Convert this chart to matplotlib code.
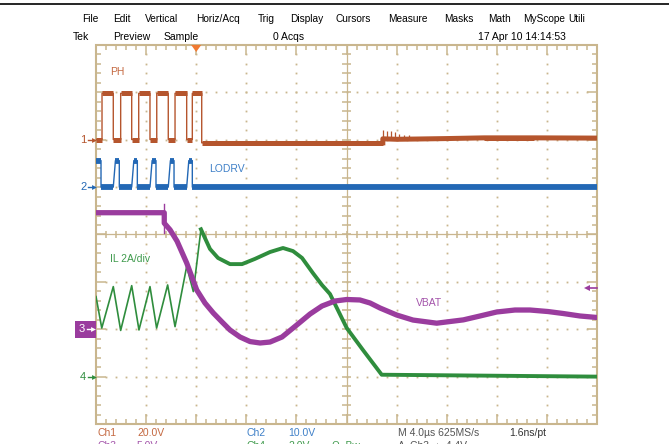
import numpy as np
import matplotlib.pyplot as plt
from matplotlib.collections import LineCollection
from matplotlib.patches import Rectangle, Polygon
from matplotlib.lines import Line2D

plt.rcParams['font.family'] = ['Liberation Sans', 'DejaVu Sans']

# --- scope settings -------------------------------------------------------
us_per_div = 4.0          # M 4.0us
t_left = -8.0             # trigger sits 2 divisions from the left edge

ch_scale = {'ph': 20.0, 'lodrv': 10.0, 'vbat': 5.0, 'il': 2.0}   # per div
ch_ref = {'ph': 2.0, 'lodrv': 1.0, 'vbat': -2.0, 'il': -3.0}     # div from centre
trig_level = 4.4          # V on Ch3

# --- Ch1 PH (V) -----------------------------------------------------------
ph_rise = [-7.52, -6.03, -4.59, -3.15, -1.69, -0.31]
ph_fall = [-6.62, -5.15, -3.69, -2.23, -0.76, 0.44]
ph_high = 19.6
ph_low = 0.1
ph_tail_t = [0.44, 14.9, 14.9, 16.0, 17.5, 20.0, 23.0, 27.0, 32.0]
ph_tail_v = [-1.3, -1.3, 0.4, 0.2, 0.3, 0.5, 0.8, 0.8, 0.7]
ph_ring_t = [14.95, 15.25, 15.55, 15.85, 16.2, 16.6, 17.0]
ph_ring_v = [4.3, 3.9, 3.6, 3.1, 2.6, 2.2, 1.9]

# --- Ch2 LODRV (V) --------------------------------------------------------
lodrv_t = [-8.0, -7.6, -7.6, -6.62, -6.45, -6.14, -6.14, -5.15, -4.98, -4.70,
           -4.70, -3.69, -3.52, -3.21, -3.21, -2.23, -2.06, -1.77, -1.77,
           -0.76, -0.59, -0.31, -0.31, 32.0]
lodrv_v = [5.6, 5.6, 0.0, 0.0, 5.6, 5.6, 0.0, 0.0, 5.6, 5.6,
           0.0, 0.0, 5.6, 5.6, 0.0, 0.0, 5.6, 5.6, 0.0,
           0.0, 5.6, 5.6, 0.0, 0.0]

# --- Ch3 VBAT (V) ---------------------------------------------------------
vbat_t = [-8.0, -2.55, -2.55, -2.09, -1.53, -0.76, 0.04, 0.70, 1.37, 2.06, 2.70,
          3.50, 4.30, 5.10, 5.89, 6.85, 8.03, 9.09, 10.04, 11.08, 12.02, 13.07,
          13.88, 14.68, 16.01, 17.31, 19.20, 21.33, 22.66, 23.99, 25.45, 26.65,
          28.09, 29.31, 30.64, 32.0]
vbat_v = [12.3, 12.3, 11.2, 10.5, 9.3, 7.0, 4.15, 2.77, 1.71, 0.77, -0.08,
          -0.82, -1.30, -1.45, -1.35, -0.82, 0.45, 1.61, 2.45, 2.98, 3.14, 3.09,
          2.77, 2.24, 1.50, 0.97, 0.64, 0.99, 1.40, 1.82, 2.03, 2.03,
          1.87, 1.66, 1.40, 1.24]
vbat_spike = (-2.55, 10.2, 13.2)

# --- Ch4 IL (A) -----------------------------------------------------------
il_t = [-8.0, -7.54, -6.62, -6.03, -5.15, -4.57, -3.69, -3.16, -2.28, -1.69,
        -0.76, -0.23, 0.38, 0.70, 1.10, 1.74, 2.70, 3.66, 4.69, 5.89, 6.93,
        7.73, 8.45, 9.32, 10.04, 10.68, 12.02, 13.32, 14.81, 32.0]
il_a = [3.38, 2.05, 3.80, 1.95, 3.84, 1.97, 3.80, 2.05, 3.87, 2.11,
        4.65, 3.59, 6.22, 5.85, 5.39, 5.01, 4.75, 4.75, 4.97, 5.26, 5.43,
        5.30, 5.01, 4.37, 3.87, 3.49, 2.05, 1.12, 0.08, 0.0]

# --- colours --------------------------------------------------------------
c_ph, c_lodrv, c_vbat, c_il = '#b5552d', '#2368b5', '#9a3c9e', '#2f8d3d'
c_ph_txt, c_lodrv_txt, c_vbat_txt, c_il_txt = '#c46840', '#3f80c8', '#a455ab', '#3f9a4c'
tan = '#c9b68e'

# --- geometry (pixels) ----------------------------------------------------
W, H = 669, 444
GX0, GX1, GY0, GY1 = 96, 597, 45, 424
ppd_x = (GX1 - GX0) / 10.0
ppd_y = (GY1 - GY0) / 8.0
sx, sy = 1.0 / ppd_x, 1.0 / ppd_y


def fx(x):
    return x / W


def fy(y):
    return 1 - y / H


def xdiv(t):
    return (np.asarray(t, float) - t_left) / us_per_div


def ydiv(v, ch):
    return ch_ref[ch] + np.asarray(v, float) / ch_scale[ch]


def ref_px(ch):
    return GY0 + (4 - ch_ref[ch]) * ppd_y


def flat_segments(x, y):
    return [[(x[i], y[i]), (x[i + 1], y[i + 1])]
            for i in range(len(x) - 1) if y[i] == y[i + 1] and x[i] != x[i + 1]]


fig = plt.figure(figsize=(W / 100, H / 100), dpi=100)
fig.patch.set_facecolor('white')
ax = fig.add_axes([GX0 / W, 1 - GY1 / H, (GX1 - GX0) / W, (GY1 - GY0) / H])
ax.set_xlim(0, 10)
ax.set_ylim(-4, 4)
ax.axis('off')

# --- graticule ------------------------------------------------------------
fine_x = np.arange(1, 50) * 0.2
fine_y = np.arange(1, 40) * 0.2 - 4
for gx in [1, 2, 3, 4, 6, 7, 8, 9]:
    ax.plot(np.full_like(fine_y, gx), fine_y, ls='none', marker='s', ms=1.3,
            mew=0, color=tan, zorder=1)
for gy in [-3, -2, -1, 1, 2, 3]:
    ax.plot(fine_x, np.full_like(fine_x, gy), ls='none', marker='s', ms=1.3,
            mew=0, color=tan, zorder=1)

ticks = []
for i in range(1, 50):
    x = i * 0.2
    L = 10 if i % 5 == 0 else 5
    ticks.append([(x, 4), (x, 4 - L * sy)])
    ticks.append([(x, -4), (x, -4 + L * sy)])
    ticks.append([(x, -3.5 * sy), (x, 3.5 * sy)])
for j in range(1, 40):
    y = -4 + j * 0.2
    L = 10 if j % 5 == 0 else 5
    ticks.append([(0, y), (L * sx, y)])
    ticks.append([(10, y), (10 - L * sx, y)])
    ticks.append([(5 - 4.5 * sx, y), (5 + 4.5 * sx, y)])
ax.add_collection(LineCollection(ticks, colors=tan, linewidths=1.1, zorder=1))
ax.plot([0, 10], [0, 0], color=tan, lw=0.9, zorder=1)
ax.plot([5, 5], [-4, 4], color=tan, lw=0.9, zorder=1)
ax.add_patch(Rectangle((0, -4), 10, 8, fill=False, ec=tan, lw=1.5,
                       clip_on=False, zorder=1))

# --- Ch1 PH ---------------------------------------------------------------
ph_t = [t_left]
ph_v = [ph_low]
for r, f in zip(ph_rise, ph_fall):
    ph_t += [r, r, f, f]
    ph_v += [ph_low, ph_high, ph_high, ph_low]
ph_t += ph_tail_t
ph_v += ph_tail_v
px_, py_ = xdiv(ph_t), ydiv(ph_v, 'ph')
ax.plot(px_, py_, color=c_ph, lw=1.0, zorder=3)
ax.add_collection(LineCollection(flat_segments(px_, py_), colors=c_ph,
                                 linewidths=3.6, zorder=3))
ax.plot(xdiv(ph_tail_t[1:]), ydiv(ph_tail_v[1:], 'ph'), color=c_ph, lw=3.6, zorder=3)
ax.vlines(xdiv(ph_ring_t), ydiv(0.4, 'ph'), ydiv(ph_ring_v, 'ph'),
          color=c_ph, lw=0.9, zorder=3)

# --- Ch2 LODRV ------------------------------------------------------------
lx, ly = xdiv(lodrv_t), ydiv(lodrv_v, 'lodrv')
ax.plot(lx, ly, color=c_lodrv, lw=1.0, zorder=3)
ax.add_collection(LineCollection(flat_segments(lx, ly), colors=c_lodrv,
                                 linewidths=4.2, zorder=3))

# --- Ch4 IL ---------------------------------------------------------------
k = il_t.index(0.38)
ax.plot(xdiv(il_t[:k + 1]), ydiv(il_a[:k + 1], 'il'), color=c_il, lw=1.2, zorder=4)
ax.plot(xdiv(il_t[k:]), ydiv(il_a[k:], 'il'), color=c_il, lw=2.8, zorder=4,
        solid_joinstyle='round')

# --- Ch3 VBAT -------------------------------------------------------------
ax.plot(xdiv(vbat_t), ydiv(vbat_v, 'vbat'), color=c_vbat, lw=3.8, zorder=5,
        solid_joinstyle='round')
ax.plot(xdiv([vbat_spike[0]] * 2), ydiv(vbat_spike[1:], 'vbat'), color=c_vbat,
        lw=1.0, zorder=5)

# --- trace labels ---------------------------------------------------------
lab = dict(fontsize=7.5, va='center', ha='left')
fig.text(fx(110), fy(72), 'PH', color=c_ph_txt, **lab)
fig.text(fx(209), fy(169), 'LODRV', color=c_lodrv_txt, **lab)
fig.text(fx(110), fy(259), 'IL 2A/div', color=c_il_txt, **lab)
fig.text(fx(416), fy(303), 'VBAT', color=c_vbat_txt, **lab)

# --- channel ground markers -----------------------------------------------
for ch, name, col in [('ph', '1', c_ph), ('lodrv', '2', c_lodrv),
                      ('il', '4', c_il)]:
    yy = ref_px(ch)
    fig.text(fx(80), fy(yy), name, color=col, fontsize=8, va='center', ha='left')
    fig.add_artist(Line2D([fx(88), fx(93)], [fy(yy), fy(yy)], color=col, lw=1.0))
    fig.add_artist(Line2D([fx(93.5)], [fy(yy)], marker='>', ms=3.5, mew=0, color=col))
yy = ref_px('vbat')
fig.add_artist(Rectangle((fx(75), fy(yy + 8.5)), 21 / W, 17 / H, color=c_vbat, lw=0))
fig.text(fx(79), fy(yy), '3', color='white', fontsize=8, va='center', ha='left')
fig.add_artist(Line2D([fx(87), fx(92)], [fy(yy), fy(yy)], color='white', lw=1.0))
fig.add_artist(Line2D([fx(92.5)], [fy(yy)], marker='>', ms=3.5, mew=0, color='white'))

# trigger level arrow (right side) and trigger position (top)
ty = GY0 + (4 - ch_ref['vbat'] - trig_level / ch_scale['vbat']) * ppd_y
fig.add_artist(Line2D([fx(588), fx(597)], [fy(ty), fy(ty)], color=c_vbat, lw=1.2))
fig.add_artist(Line2D([fx(587)], [fy(ty)], marker='<', ms=4, mew=0, color=c_vbat))
tx = GX0 + xdiv(0.0) * ppd_x
fig.add_artist(Polygon([(fx(tx - 5), fy(45)), (fx(tx + 5), fy(45)), (fx(tx), fy(52))],
                       closed=True, color='#f07a32', lw=0))

# --- screen chrome --------------------------------------------------------
fig.add_artist(Line2D([0, 1], [fy(4), fy(4)], color='black', lw=1.2))
menu = ['File', 'Edit', 'Vertical', 'Horiz/Acq', 'Trig', 'Display', 'Cursors',
        'Measure', 'Masks', 'Math', 'MyScope', 'Utili']
menu_x = [82, 113, 145, 196, 258, 290, 336, 388, 444, 488, 523, 568]
for s, x in zip(menu, menu_x):
    fig.text(fx(x), fy(19), s, fontsize=7.3, va='center', ha='left', color='black')
status = ['Tek', 'Preview', 'Sample', '0 Acqs', '17 Apr 10 14:14:53']
status_x = [73, 113, 164, 273, 478]
for s, x in zip(status, status_x):
    fig.text(fx(x), fy(37), s, fontsize=7.5, va='center', ha='left', color='black')

bottom = [('Ch1', 97, c_ph_txt), ('20.0V', 137, c_ph_txt),
          ('Ch2', 247, c_lodrv_txt), ('10.0V', 288, c_lodrv_txt),
          ('M 4.0\u00b5s 625MS/s', 398, '#555555'), ('1.6ns/pt', 509, '#333333')]
for s, x, col in bottom:
    fig.text(fx(x), fy(433), s, fontsize=7.5, va='center', ha='left', color=col)
# second status line is cut by the bottom edge of the screen capture
bottom2 = [('Ch3', 97, c_vbat_txt), ('5.0V', 137, c_vbat_txt),
           ('Ch4', 247, c_il_txt), ('2.0V', 288, c_il_txt),
           ('\u03a9  Bw', 332, c_il_txt), ('A  Ch3  \u2193  4.4V', 398, '#555555')]
for s, x, col in bottom2:
    fig.text(fx(x), fy(446), s, fontsize=7.5, va='center', ha='left', color=col)

fig.savefig('out.png', dpi=100, facecolor='white')
